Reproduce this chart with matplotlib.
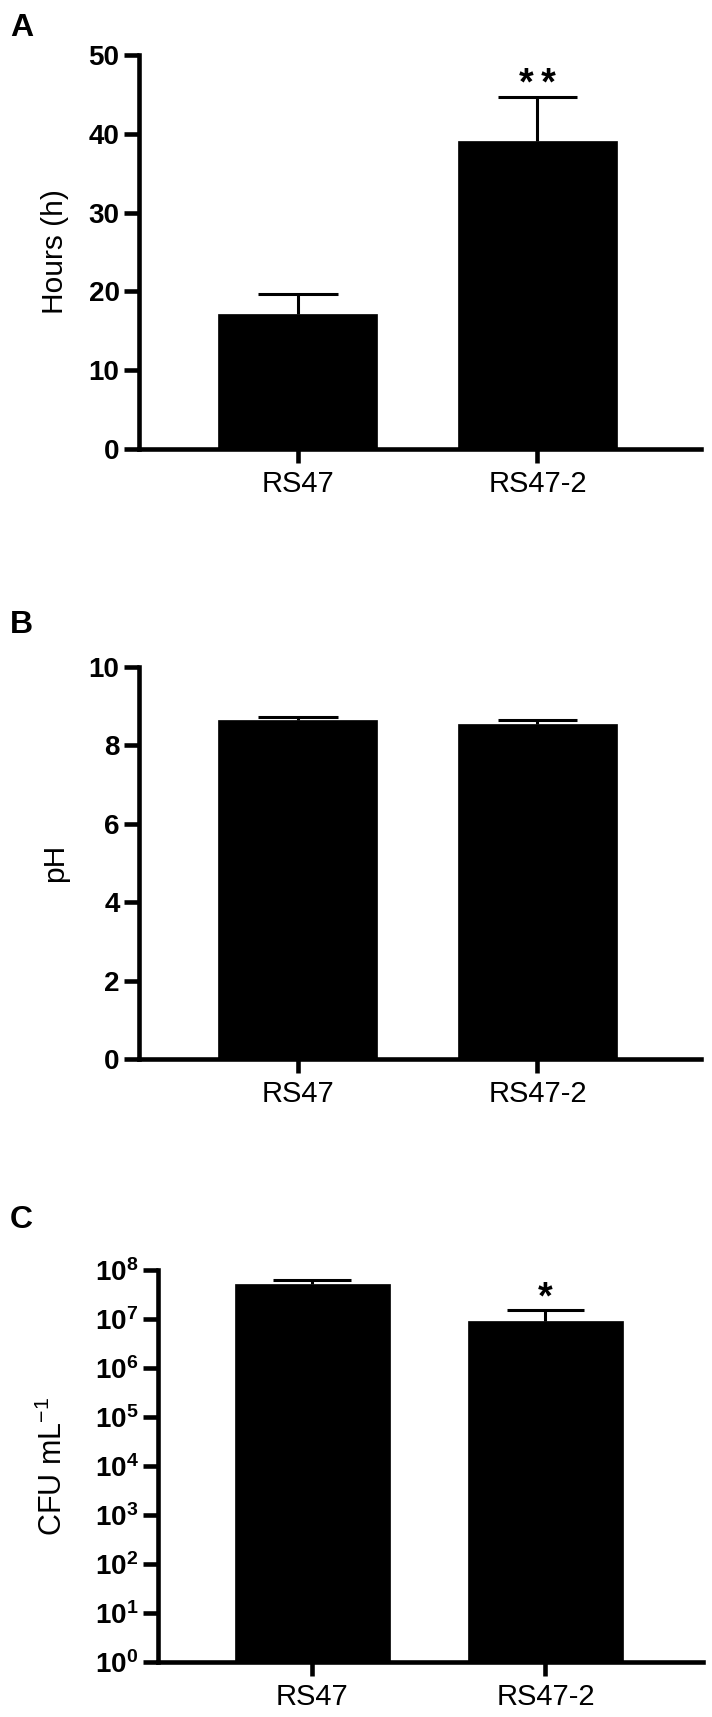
import numpy as np
import matplotlib
matplotlib.use("Agg")
import matplotlib.pyplot as plt

plt.rcParams['font.family'] = ['Liberation Sans', 'DejaVu Sans']
plt.rcParams['mathtext.default'] = 'regular'

categories = ["RS47", "RS47-2"]

hours_mean = [17.1, 39.05]
hours_err = [2.6, 5.65]

ph_mean = [8.65, 8.55]
ph_err = [0.08, 0.09]

cfu_mean = [5.2e7, 9.2e6]
cfu_err = [1.0e7, 5.8e6]

hours_ticks = [0, 10, 20, 30, 40, 50]
ph_ticks = [0, 2, 4, 6, 8, 10]
cfu_exponents = [0, 1, 2, 3, 4, 5, 6, 7, 8]

W, H = 712, 1717
fig = plt.figure(figsize=(W / 100, H / 100), dpi=100)

def axes_px(left, top, right, bottom):
    return fig.add_axes([left / W, 1 - bottom / H, (right - left) / W, (bottom - top) / H])

axA = axes_px(139, 55, 701, 449)
axB = axes_px(139, 667, 701, 1059)
axC = axes_px(158, 1270, 703, 1662)

SPINE_LW = 3.3
ERR_LW = 2.2
x = np.arange(len(categories))
BAR_W = 0.664
CAP_HALF = BAR_W / 4

def style(ax, xlim):
    for s in ['top', 'right']:
        ax.spines[s].set_visible(False)
    for s in ['left', 'bottom']:
        ax.spines[s].set_linewidth(SPINE_LW)
    ax.tick_params(axis='y', length=11, width=SPINE_LW, pad=3, labelsize=20)
    ax.tick_params(axis='x', length=10, width=SPINE_LW, pad=5, labelsize=21)
    for lbl in ax.get_yticklabels():
        lbl.set_fontweight('bold')
    ax.set_xticks(x)
    ax.set_xticklabels(categories)
    ax.set_xlim(*xlim)

def bars(ax, mean, err):
    mean = np.asarray(mean)
    err = np.asarray(err)
    ax.bar(x, mean, width=BAR_W, color='black', edgecolor='black', linewidth=0.5, zorder=2)
    ax.vlines(x, mean, mean + err, colors='black', linewidth=ERR_LW, zorder=1)
    ax.hlines(mean + err, x - CAP_HALF, x + CAP_HALF, colors='black', linewidth=ERR_LW, zorder=1)

def star(ax, i, mean, err, txt):
    ax.annotate(txt, (x[i], mean[i] + err[i]), xytext=(0, 1), textcoords='offset points',
                ha='center', va='baseline', fontsize=27, fontweight='bold')

# Panel A
bars(axA, hours_mean, hours_err)
axA.set_ylim(0, 50)
axA.set_yticks(hours_ticks)
style(axA, (-0.664, 1.683))
axA.set_ylabel("Hours (h)", fontsize=21.5)
axA.yaxis.set_label_coords(-0.125, 0.5)
star(axA, 1, hours_mean, hours_err, "*\u2009*")

# Panel B
bars(axB, ph_mean, ph_err)
axB.set_ylim(0, 10)
axB.set_yticks(ph_ticks)
style(axB, (-0.664, 1.683))
axB.set_ylabel("pH", fontsize=21.5)
axB.yaxis.set_label_coords(-0.125, 0.5)

# Panel C
axC.set_yscale('log')
bars(axC, cfu_mean, cfu_err)
axC.set_ylim(1, 1e8)
axC.set_yticks([10.0 ** e for e in cfu_exponents])
axC.set_yticklabels([r'$\mathregular{10^{%d}}$' % e for e in cfu_exponents])
axC.yaxis.set_minor_locator(matplotlib.ticker.NullLocator())
style(axC, (-0.66, 1.675))
axC.set_ylabel(r"CFU mL$^{-1}$", fontsize=22)
axC.yaxis.set_label_coords(-0.164, 0.5)
star(axC, 1, cfu_mean, cfu_err, "*")

# Panel letters
for letter, ytop in [("A", 13), ("B", 610), ("C", 1205)]:
    fig.text(10 / W, 1 - ytop / H, letter, ha='left', va='top', fontsize=23, fontweight='bold')

fig.savefig("out.png", dpi=100, facecolor='white')
